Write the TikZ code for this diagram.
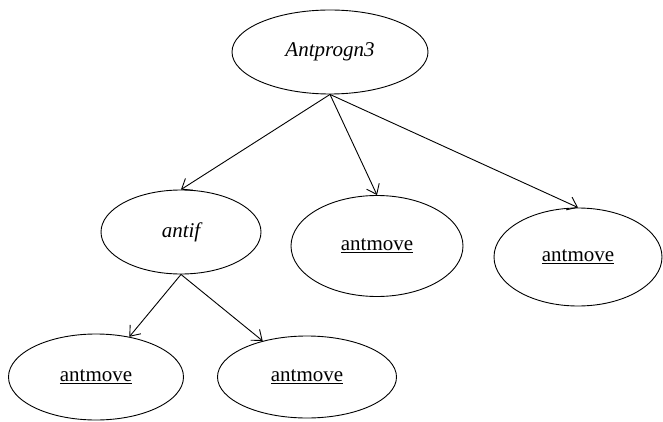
\documentclass[tikz,border=0pt]{standalone}
\usepackage{fontspec}
\setmainfont{Liberation Serif}
\usetikzlibrary{shapes.geometric,arrows.meta}

\tikzset{
  treenode/.style={draw, ellipse, line width=0.9pt, inner sep=0pt, font=\fontsize{21}{24}\selectfont},
  treearrow/.style={line width=0.9pt, -{Straight Barb[length=9pt,width=14pt,line width=0.9pt]}}
}

\begin{document}
\begin{tikzpicture}[x=1pt,y=-1pt]
    \useasboundingbox (0,0) rectangle (663,422);

    %root
    \node[treenode, minimum width=196pt, minimum height=84pt] (root) at (330,52) {\itshape Antprogn3};

    %second level
    \node[treenode, minimum width=160pt, minimum height=84pt] (antif) at (181,232) {\itshape antif};
    \node[treenode, minimum width=172pt, minimum height=101pt] (movemid) at (377,246) {\underline{antmove}};
    \node[treenode, minimum width=168pt, minimum height=98pt] (moveright) at (578,257) {\underline{antmove}};

    %third level
    \node[treenode, minimum width=175pt, minimum height=86pt] (moveleft) at (96,377) {\underline{antmove}};
    \node[treenode, minimum width=179pt, minimum height=82pt] (movelow) at (307,377) {\underline{antmove}};

    %edges from root
    \draw[treearrow] (root.south) -- (antif.north);
    \draw[treearrow] (root.south) -- (movemid.north);
    \draw[treearrow] (root.south) -- (moveright.north);

    %edges from antif
    \draw[treearrow] (antif.south) -- (moveleft);
    \draw[treearrow] (antif.south) -- (movelow);
\end{tikzpicture}
\end{document}
